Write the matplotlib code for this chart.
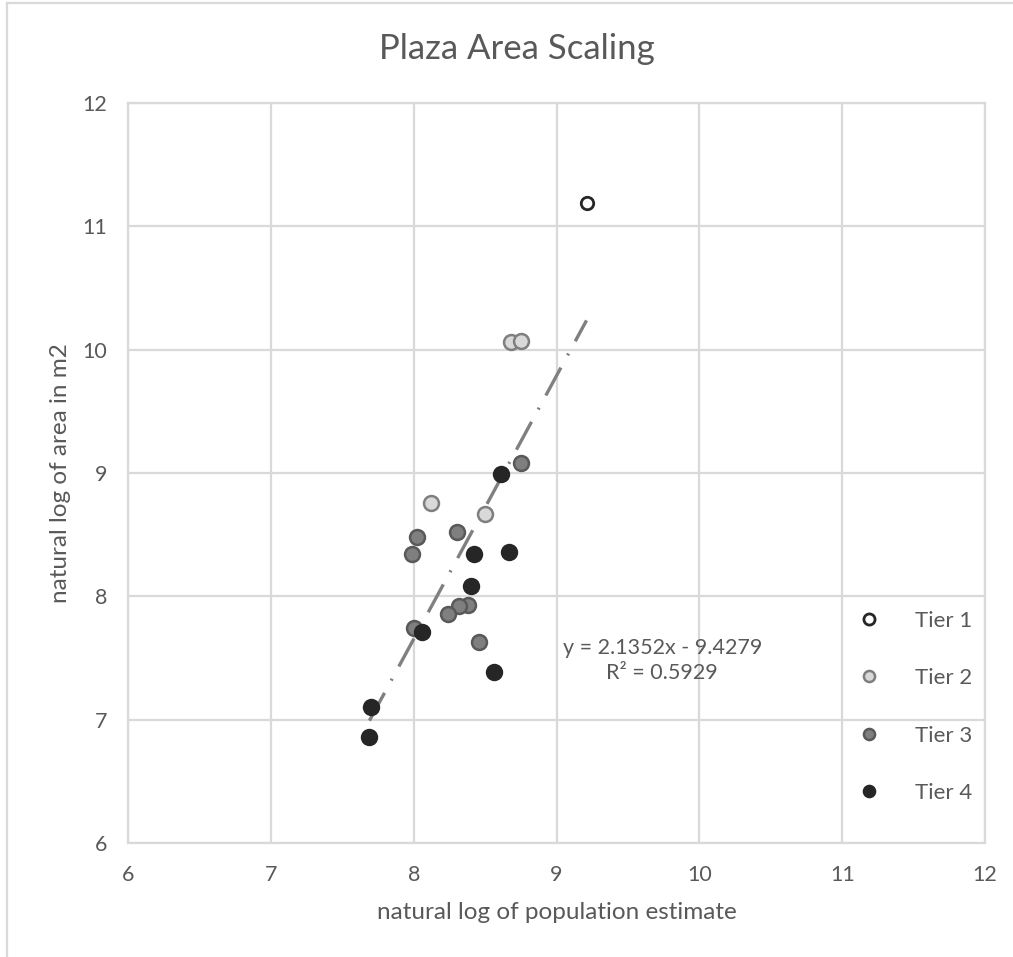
import numpy as np
import matplotlib.pyplot as plt
from matplotlib.lines import Line2D

plt.rcParams['font.family'] = ['Lato', 'DejaVu Sans']

# ln(population estimate), ln(plaza area in m2) per tier
tier1_x = [9.21]
tier1_y = [11.19]
tier2_x = [8.12, 8.50, 8.68, 8.75]
tier2_y = [8.76, 8.67, 10.06, 10.07]
tier3_x = [8.75, 8.02, 8.30, 7.99, 8.38, 8.32, 8.24, 8.00, 8.46]
tier3_y = [9.08, 8.48, 8.52, 8.34, 7.93, 7.92, 7.86, 7.74, 7.63]
tier4_x = [8.61, 8.42, 8.67, 8.40, 8.06, 8.56, 7.70, 7.69]
tier4_y = [8.99, 8.34, 8.36, 8.08, 7.71, 7.39, 7.10, 6.86]

# linear trendline over all points
slope = 2.1352
intercept = -9.4279
r_squared = 0.5929

text_col = '#595959'
grid_col = '#d9d9d9'

fig = plt.figure(figsize=(10.13, 9.57), dpi=100)
ax = fig.add_axes([0.1264, 0.1191, 0.846, 0.7733])

ax.set_xlim(6, 12)
ax.set_ylim(6, 12)
ax.set_xticks(range(6, 13))
ax.set_yticks(range(6, 13))
ax.grid(True, color=grid_col, linewidth=1.6)
ax.set_axisbelow(True)
for sp in ax.spines.values():
    sp.set_color(grid_col)
    sp.set_linewidth(1.6)
ax.tick_params(length=0, labelsize=15.5, labelcolor=text_col)
ax.tick_params(axis='x', pad=16)
ax.tick_params(axis='y', pad=15)

all_x = tier1_x + tier2_x + tier3_x + tier4_x
xs = np.array([min(all_x), max(all_x)])
ax.plot(xs, slope * xs + intercept, color='#808080', linewidth=2.4,
        linestyle=(0, (9.5, 4.2, 0.6, 4.2)), zorder=2)

msize = 115
ax.scatter(tier1_x, tier1_y, s=80, facecolor='white', edgecolor='#262626',
           linewidth=2.0, zorder=3)
ax.scatter(tier2_x, tier2_y, s=msize, facecolor='#d9d9d9', edgecolor='#7f7f7f',
           linewidth=1.8, zorder=3)
ax.scatter(tier3_x, tier3_y, s=msize, facecolor='#7f7f7f', edgecolor='#595959',
           linewidth=1.8, zorder=3)
ax.scatter(tier4_x, tier4_y, s=msize, facecolor='#262626', edgecolor='#262626',
           linewidth=1.8, zorder=3)

ax.text(9.74, 7.48, f'y = {slope}x - {abs(intercept)}\nR² = {r_squared}',
        ha='center', va='center', fontsize=15.5, color=text_col, linespacing=1.3)

handles = [
    Line2D([], [], marker='o', linestyle='none', markersize=8, markerfacecolor='white',
           markeredgecolor='#262626', markeredgewidth=2.0),
    Line2D([], [], marker='o', linestyle='none', markersize=8, markerfacecolor='#d9d9d9',
           markeredgecolor='#7f7f7f', markeredgewidth=1.8),
    Line2D([], [], marker='o', linestyle='none', markersize=8, markerfacecolor='#7f7f7f',
           markeredgecolor='#595959', markeredgewidth=1.8),
    Line2D([], [], marker='o', linestyle='none', markersize=8, markerfacecolor='#262626',
           markeredgecolor='#262626', markeredgewidth=1.8),
]
leg = ax.legend(handles, ['Tier 1', 'Tier 2', 'Tier 3', 'Tier 4'], loc='center left',
                bbox_to_anchor=(0.815, 0.184), frameon=False, fontsize=16,
                labelspacing=1.68, handletextpad=1.1, labelcolor=text_col)

ax.set_xlabel('natural log of population estimate', fontsize=17.5, color=text_col, labelpad=12)
ax.set_ylabel('natural log of area in m2', fontsize=17.5, color=text_col, labelpad=8)
fig.text(0.51, 0.949, 'Plaza Area Scaling', ha='center', va='center',
         fontsize=25, color=text_col)

# outer chart frame (top and left edges)
fig.add_artist(Line2D([7 / 1013, 1], [1 - 3 / 957] * 2, color=grid_col, linewidth=1.6))
fig.add_artist(Line2D([7 / 1013] * 2, [0, 1 - 3 / 957], color=grid_col, linewidth=1.6))

fig.savefig('out.png', dpi=100)
